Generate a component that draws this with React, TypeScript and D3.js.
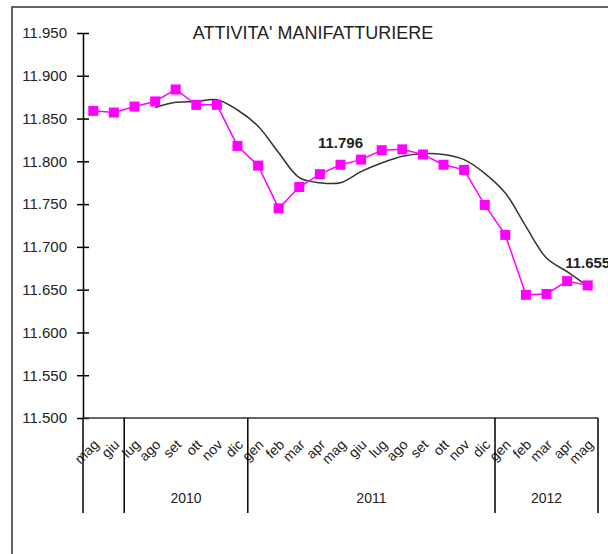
import { useEffect, useRef } from 'react'
import * as d3 from 'd3'

const months = [
  'mag', 'giu', 'lug', 'ago', 'set', 'ott', 'nov', 'dic',
  'gen', 'feb', 'mar', 'apr', 'mag', 'giu', 'lug', 'ago', 'set', 'ott', 'nov', 'dic',
  'gen', 'feb', 'mar', 'apr', 'mag',
]
const yearGroups = [
  { label: '', from: 0, to: 2 },
  { label: '2010', from: 2, to: 8 },
  { label: '2011', from: 8, to: 20 },
  { label: '2012', from: 20, to: 25 },
]
const monthly = [
  11.859, 11.857, 11.864, 11.870, 11.884, 11.866, 11.866, 11.818,
  11.795, 11.745, 11.770, 11.785, 11.796, 11.802, 11.813, 11.814, 11.808, 11.796, 11.790, 11.749,
  11.714, 11.644, 11.645, 11.660, 11.655,
]
const trend = [
  null, null, null, 11.863, 11.869, 11.870, 11.872, 11.860,
  11.841, 11.810, 11.781, 11.775, 11.775, 11.788, 11.798, 11.806, 11.809, 11.808, 11.802, 11.786,
  11.763, 11.724, 11.687, 11.671, 11.654,
]
const labelled = [
  { i: 12, text: '11.796' },
  { i: 24, text: '11.655' },
]
const yTicks = [11.5, 11.55, 11.6, 11.65, 11.7, 11.75, 11.8, 11.85, 11.9, 11.95]

export default function App() {
  const svgRef = useRef<SVGSVGElement>(null)

  useEffect(() => {
    const W = 608
    const H = 554
    const svg = d3.select(svgRef.current)
    svg.selectAll('*').remove()
    svg.attr('width', W).attr('height', H)

    const font = 'Arial, "Liberation Sans", sans-serif'
    const left = 83
    const right = 598
    const top = 33
    const bottom = 418

    const x = d3.scaleBand<number>().domain(months.map((_, i) => i)).range([left, right])
    const cx = (i: number) => (x(i) as number) + x.bandwidth() / 2
    const y = d3.scaleLinear().domain([11.5, 11.95]).range([bottom, top])

    // outer frame (cut by the picture edges)
    svg.append('rect')
      .attr('x', 12).attr('y', 7).attr('width', 700).attr('height', 700)
      .attr('fill', 'none').attr('stroke', '#333').attr('stroke-width', 1.5)

    svg.append('text')
      .attr('x', 313).attr('y', 39)
      .attr('text-anchor', 'middle').attr('font-family', font).attr('font-size', 18)
      .attr('fill', '#222').text("ATTIVITA' MANIFATTURIERE")

    // y axis
    const ya = svg.append('g').attr('transform', `translate(${left},0)`)
      .call(d3.axisLeft(y).tickValues(yTicks).tickFormat(d3.format('.3f')).tickSizeInner(6).tickSizeOuter(0))
    ya.select('.domain').attr('stroke', '#000').attr('stroke-width', 1.5)
    ya.selectAll('.tick line').attr('x2', 6).attr('x1', -6).attr('stroke', '#000').attr('stroke-width', 1.5)
    ya.selectAll('.tick text').attr('x', -16).attr('font-family', font).attr('font-size', 15).attr('fill', '#222')

    // x axis line
    svg.append('line')
      .attr('x1', left).attr('x2', right).attr('y1', bottom).attr('y2', bottom)
      .attr('stroke', '#333').attr('stroke-width', 1.5)

    // month labels
    svg.append('g').selectAll('text').data(months).join('text')
      .attr('transform', (_, i) => `translate(${cx(i) + 3},${bottom + 24}) rotate(-45)`)
      .attr('text-anchor', 'end').attr('dy', '0.35em')
      .attr('font-family', font).attr('font-size', 14).attr('fill', '#222')
      .text((d) => d)

    // year group separators and labels
    const edges = Array.from(new Set(yearGroups.flatMap((g) => [g.from, g.to])))
    const edgeX = (i: number) => (i >= months.length ? right : (x(i) as number))
    svg.append('g').selectAll('line').data(edges).join('line')
      .attr('x1', (d) => edgeX(d)).attr('x2', (d) => edgeX(d))
      .attr('y1', bottom).attr('y2', 513)
      .attr('stroke', '#000').attr('stroke-width', 1.5)
    svg.append('g').selectAll('text').data(yearGroups).join('text')
      .attr('x', (g) => (edgeX(g.from) + edgeX(g.to)) / 2).attr('y', 503)
      .attr('text-anchor', 'middle').attr('font-family', font).attr('font-size', 14).attr('fill', '#222')
      .text((g) => g.label)

    // trend line
    const trendPts = trend.map((v, i) => [i, v] as [number, number | null]).filter((d) => d[1] != null) as [number, number][]
    svg.append('path')
      .datum(trendPts)
      .attr('fill', 'none').attr('stroke', '#333').attr('stroke-width', 1.5)
      .attr('d', d3.line<[number, number]>().x((d) => cx(d[0])).y((d) => y(d[1])).curve(d3.curveCatmullRom))

    // monthly series
    svg.append('path')
      .datum(monthly)
      .attr('fill', 'none').attr('stroke', '#ff00ff').attr('stroke-width', 1.5)
      .attr('d', d3.line<number>().x((_, i) => cx(i)).y((d) => y(d)))
    const ms = 10
    svg.append('g').selectAll('rect').data(monthly).join('rect')
      .attr('x', (_, i) => cx(i) - ms / 2).attr('y', (d) => y(d) - ms / 2)
      .attr('width', ms).attr('height', ms).attr('fill', '#ff00ff')

    svg.append('g').selectAll('text').data(labelled).join('text')
      .attr('x', (d) => cx(d.i)).attr('y', (d) => y(monthly[d.i]) - 17)
      .attr('text-anchor', 'middle').attr('font-family', font).attr('font-size', 15)
      .attr('font-weight', 'bold').attr('fill', '#222')
      .text((d) => d.text)

    return () => { svg.selectAll('*').remove() }
  }, [])

  return (
    <div style={{ position: 'absolute', left: 0, top: 0 }}>
      <svg ref={svgRef} style={{ display: 'block' }} />
    </div>
  )
}
